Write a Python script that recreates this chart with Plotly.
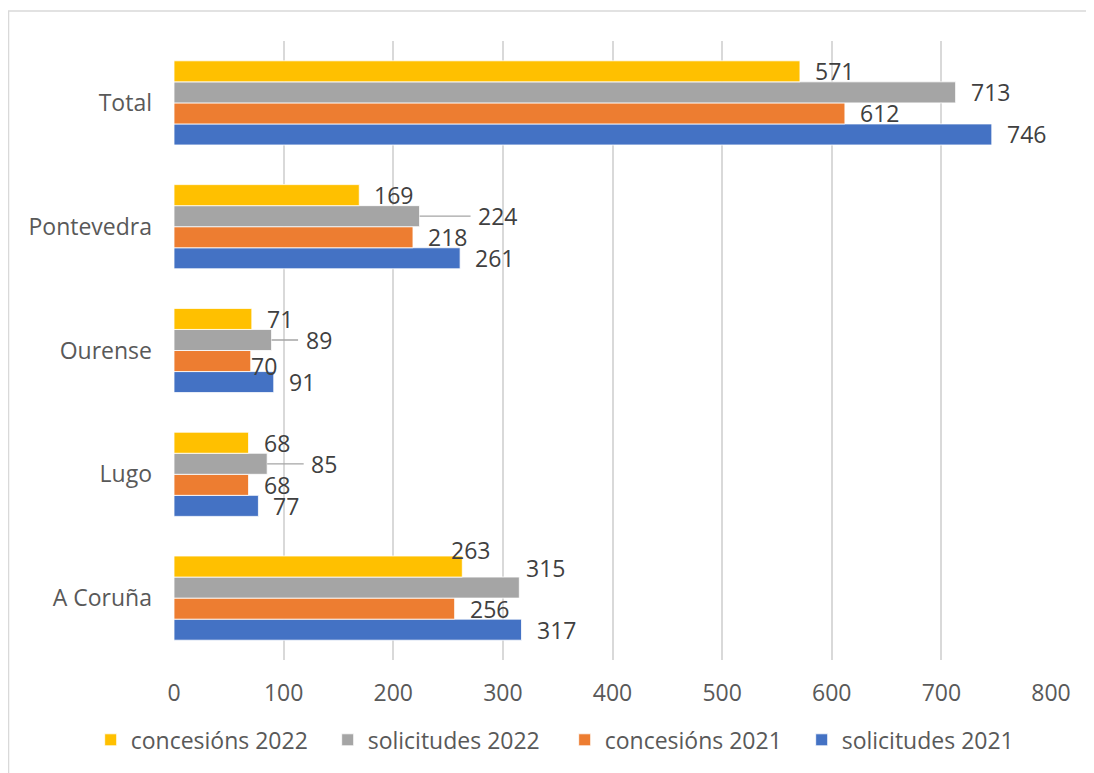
import plotly.graph_objects as go

# data (bottom to top, as drawn)
categories = ["A Coruña", "Lugo", "Ourense", "Pontevedra", "Total"]
solicitudes_2021 = [317, 77, 91, 261, 746]
concesions_2021 = [256, 68, 70, 218, 612]
solicitudes_2022 = [315, 85, 89, 224, 713]
concesions_2022 = [263, 68, 71, 169, 571]

x_ticks = [0, 100, 200, 300, 400, 500, 600, 700, 800]

# first trace sits at the bottom of each group
series = [
    ("solicitudes 2021", solicitudes_2021, "#4472C4"),
    ("concesións 2021", concesions_2021, "#ED7D31"),
    ("solicitudes 2022", solicitudes_2022, "#A5A5A5"),
    ("concesións 2022", concesions_2022, "#FFC000"),
]

FONT = "Open Sans"
FS = 23
BARGAP = 0.32

# hand-moved labels in the original: (category, series) -> (extra dx px, dy px)
moved = {
    ("A Coruña", "concesións 2022"): (-26, 17),
    ("A Coruña", "solicitudes 2022"): (-8, 20),
    ("Ourense", "concesións 2021"): (-15, -5),
}
# labels pulled away with a leader line: (category, series) -> text centre offset px
leaders = {
    ("Pontevedra", "solicitudes 2022"): 78,
    ("Ourense", "solicitudes 2022"): 47,
    ("Lugo", "solicitudes 2022"): 57,
}

fig = go.Figure()
for name, vals, color in series:
    fig.add_trace(go.Bar(
        y=categories, x=vals, name=name, orientation="h",
        marker=dict(color=color, line=dict(color="white", width=0.8)),
    ))

# data labels
n = len(series)
bw = (1 - BARGAP) / n
annotations = []
for i, (name, vals, color) in enumerate(series):
    off = -(1 - BARGAP) / 2 + bw * (i + 0.5)
    for j, cat in enumerate(categories):
        key = (cat, name)
        if key in leaders:
            annotations.append(dict(
                x=vals[j], y=j + off, text=str(vals[j]),
                showarrow=True, arrowhead=0, arrowwidth=1.3, arrowcolor="#A5A5A5",
                ax=leaders[key], ay=0, borderpad=7, standoff=0,
                font=dict(family=FONT, size=FS, color="#404040"),
            ))
        else:
            dx, dy = moved.get(key, (0, 0))
            annotations.append(dict(
                x=vals[j], y=j + off, text=str(vals[j]), showarrow=False,
                xanchor="left", yanchor="middle", xshift=13 + dx, yshift=dy,
                font=dict(family=FONT, size=FS, color="#404040"),
            ))

# the page body adds an 8px offset, so the figure is 8px smaller than the window
fig.update_layout(
    barmode="group",
    bargap=BARGAP,
    bargroupgap=0,
    width=1086,
    height=765,
    margin=dict(l=166, r=43, t=33, b=113),
    paper_bgcolor="white",
    plot_bgcolor="white",
    font=dict(family=FONT, size=FS, color="#595959"),
    annotations=annotations,
    xaxis=dict(
        range=[0, 800], tickvals=x_ticks, showgrid=True, gridcolor="#D9D9D9",
        gridwidth=1.5, zeroline=False, showline=False, ticks="",
        ticklabelstandoff=17, tickfont=dict(size=FS, color="#595959"),
    ),
    yaxis=dict(
        type="category", showgrid=False, zeroline=False, showline=False,
        ticks="", ticklabelstandoff=21, tickfont=dict(size=FS, color="#595959"),
    ),
    legend=dict(
        orientation="h", traceorder="reversed", x=-0.095, xanchor="left",
        y=-0.129, yanchor="middle", font=dict(size=FS, color="#595959"),
        entrywidth=192, entrywidthmode="pixels", itemwidth=30,
    ),
    shapes=[dict(
        type="rect", xref="paper", yref="paper", x0=-0.1887, x1=1.06,
        y0=-0.2, y1=1.0485, line=dict(color="#D9D9D9", width=1.5), layer="below",
    )],
    showlegend=True,
)

fig.write_html("out.html")
